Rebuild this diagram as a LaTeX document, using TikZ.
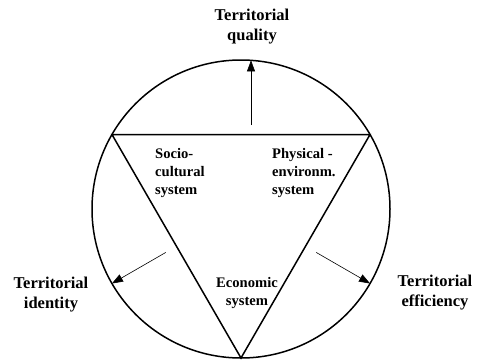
\documentclass[tikz,border=0pt]{standalone}
\usepackage{fontspec}
\setmainfont{Liberation Serif}
\usetikzlibrary{arrows.meta, calc}

\begin{document}
\begin{tikzpicture}[x=1pt, y=1pt,
  ring/.style={
    circle, draw, line width=1.5pt,
    minimum size=298pt, inner sep=0pt, outer sep=0pt
  },
  goal/.style={font=\bfseries\fontsize{16.5}{20}\selectfont, align=center, inner sep=0pt},
  sys/.style={font=\bfseries\fontsize{14.6}{18}\selectfont, align=left, inner sep=0pt},
  ray/.style={-{Triangle[length=11pt, width=8pt]}, line width=0.6pt}
]
  \useasboundingbox (0,0) rectangle (477,360);

  \node[ring] (c) at (241,151) {};
  \draw[line width=1.5pt, line join=miter] (c.150) -- (c.30) -- (c.270) -- cycle;

  \node[goal] (quality) at (252,333) {Territorial\\quality};
  \node[goal] (identity) at (51,65) {Territorial\\identity};
  \node[goal] (efficiency) at (435,67) {Territorial\\efficiency};

  \node[sys, anchor=west] (socio) at (155,187) {Socio-\\cultural\\system};
  \node[sys, anchor=west] (physical) at (272,187) {Physical -\\environm.\\system};
  \node[sys, align=center] (economic) at (247,67) {Economic\\system};

  \coordinate (qs) at ($(c.center)+(10pt,84pt)$);
  \coordinate (is) at ($(c.center)+(210:87pt)$);
  \coordinate (es) at ($(c.center)+(330:87pt)$);

  \draw[ray] (qs) -- (qs |- c.86);
  \draw[ray] (is) -- (c.210);
  \draw[ray] (es) -- (c.330);
\end{tikzpicture}
\end{document}
